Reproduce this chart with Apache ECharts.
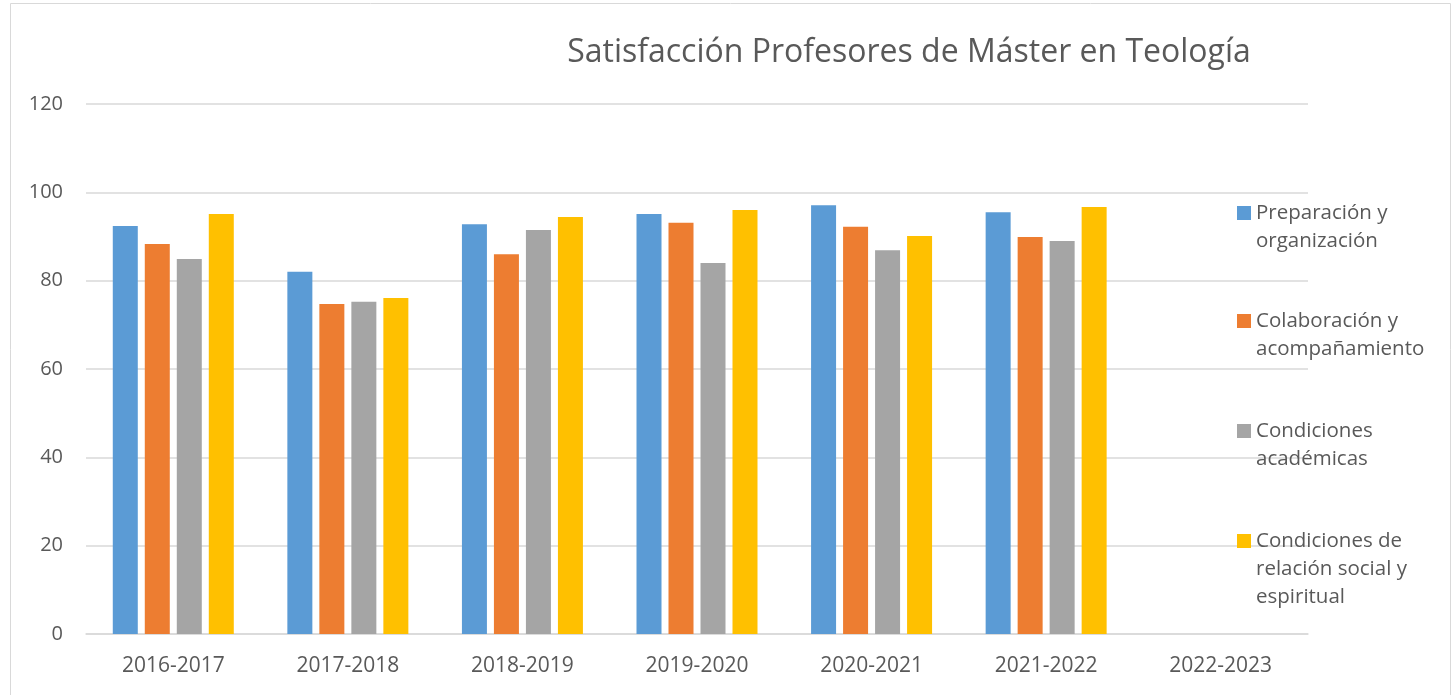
<!DOCTYPE html>
<html><head><meta charset="utf-8">
<script src="https://cdn.jsdelivr.net/npm/echarts@6/dist/echarts.min.js"></script>
<style>html,body{margin:0;padding:0;background:#fff}#c{width:1452px;height:695px}</style>
</head><body><div id="c"></div>
<script>
const categories = ['2016-2017','2017-2018','2018-2019','2019-2020','2020-2021','2021-2022','2022-2023'];
const seriesNames = ['Preparación y\norganización','Colaboración y\nacompañamiento','Condiciones\nacadémicas','Condiciones de\nrelación social y\nespiritual'];
const prep = [92.4, 82.0, 92.8, 95.1, 97.1, 95.5, null];
const colab = [88.3, 74.7, 86.0, 93.1, 92.2, 89.9, null];
const cond = [84.9, 75.2, 91.5, 84.0, 86.9, 89.0, null];
const social = [95.1, 76.1, 94.4, 96.0, 90.1, 96.7, null];
const colors = ['#5b9bd5','#ed7d31','#a5a5a5','#ffc000'];
const values = [prep, colab, cond, social];
const font = 'Open Sans';
const chart = echarts.init(document.getElementById('c'));
const LH = 28;
// icon centre aligned with first line: pad with blank lines above
const legendCenters = [213, 321, 431, 541];
const legends = seriesNames.map((n,i)=>{
  const lines = n.split('\n').length;
  const pad = lines - 1;
  const total = lines + pad;
  return {orient:'vertical',left:1232,top:legendCenters[i] - total*LH/2 - 5,data:[n],itemWidth:14,itemHeight:14,icon:'rect',selectedMode:false,
    formatter:(name)=>Array(pad).fill(' ').join('\n') + (pad? '\n':'') + name,
    textStyle:{fontFamily:font,fontSize:20.5,color:'#595959',lineHeight:LH}};
});
chart.setOption({
  animation:false,
  textStyle:{fontFamily:font},
  graphic:[{type:'rect',shape:{x:10.5,y:3.5,width:1440,height:700},style:{fill:'none',stroke:'#d9d9d9',lineWidth:1}}],
  title:{text:'Satisfacción Profesores de Máster en Teología',left:904,textAlign:'center',top:32,textStyle:{fontFamily:font,fontSize:32,fontWeight:'normal',color:'#595959'}},
  legend: legends,
  grid:{left:86,right:144,top:104,bottom:61},
  xAxis:{type:'category',data:categories,axisTick:{show:false},axisLine:{lineStyle:{color:'#d9d9d9',width:1.5}},axisLabel:{fontFamily:font,fontSize:21,color:'#595959',margin:22}},
  yAxis:{type:'value',min:0,max:120,interval:20,axisLine:{show:false},axisTick:{show:false},splitLine:{lineStyle:{color:'#d9d9d9',width:1.5}},axisLabel:{fontFamily:font,fontSize:20,color:'#595959',margin:23}},
  series: seriesNames.map((n,i)=>({name:n,type:'bar',data:values[i],barWidth:25,barGap:'28%',itemStyle:{color:colors[i]}}))
});
</script></body></html>
